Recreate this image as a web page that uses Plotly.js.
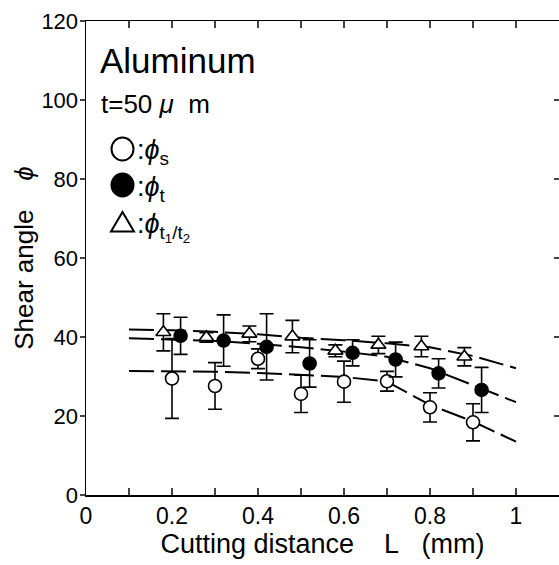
<!DOCTYPE html>
<html><head><meta charset="utf-8">
<script src="https://cdn.plot.ly/plotly-3.0.1.min.js"></script>
<style>html,body{margin:0;padding:0;background:#fff}</style>
</head><body>
<div id="chart" style="width:559px;height:565px"></div>
<script>
// phi_s (open circles)
const sX   = [0.20, 0.30, 0.40, 0.50, 0.60, 0.70, 0.80, 0.90];
const sY   = [29.5, 27.6, 34.5, 25.6, 28.7, 28.8, 22.2, 18.4];
const sErr = [10.1, 5.9, 2.5, 4.7, 5.2, 2.5, 3.7, 4.7];
// phi_t (filled circles)
const tX   = [0.22, 0.32, 0.42, 0.52, 0.62, 0.72, 0.82, 0.92];
const tY   = [40.3, 39.1, 37.5, 33.3, 36.0, 34.3, 30.8, 26.6];
const tErr = [4.7, 6.5, 8.4, 6.0, 3.3, 4.4, 3.7, 5.7];
// phi_t1/t2 (triangles)
const rX   = [0.18, 0.28, 0.38, 0.48, 0.58, 0.68, 0.78, 0.88];
const rY   = [41.2, 39.9, 40.8, 40.1, 36.5, 38.0, 37.6, 35.0];
const rErr = [4.7, 1.2, 2.0, 4.1, 1.5, 2.2, 2.6, 2.3];
// dashed trend curves
const fitX  = [0.1, 0.2, 0.3, 0.4, 0.5, 0.6, 0.7, 0.8, 0.9, 1.0];
const fitS  = [31.4, 31.3, 31.2, 30.9, 30.4, 29.9, 28.7, 22.8, 18.6, 13.5];
const fitT  = [39.7, 39.4, 39.0, 38.3, 37.4, 36.3, 35.0, 32.1, 27.8, 23.5];
const fitR  = [41.9, 41.7, 41.3, 40.7, 39.8, 39.2, 38.4, 37.4, 35.2, 32.1];

const FONT = 'Liberation Sans, Arial, sans-serif';
const PHI = '\u03D5';
const NB = '\u00a0';
const dash = '25px,7px';
function fit(y){ return {x: fitX, y: y, mode: 'lines', line: {color: 'black', width: 2, dash: dash}, hoverinfo: 'skip', showlegend: false}; }
function pts(x, y, e, sym, fill){
  return {x: x, y: y, mode: 'markers', showlegend: false,
    error_y: {type: 'data', array: e, visible: true, color: 'black', thickness: 1.6, width: 7},
    marker: {symbol: sym, size: 13, color: fill, line: {color: 'black', width: 1.6}}};
}
const data = [
  fit(fitS), fit(fitT), fit(fitR),
  pts(rX, rY, rErr, 'triangle-up', 'white'),
  pts(sX, sY, sErr, 'circle', 'white'),
  pts(tX, tY, tErr, 'circle', 'black'),
  {x: [0], y: [0], xaxis: 'x2', yaxis: 'y2', mode: 'markers', marker: {opacity: 0}, showlegend: false, hoverinfo: 'skip'}
];

const W = 473, H = 474, L = 86, T = 21;
function px(x){ return (x - L) / W; }
function py(y){ return (T + H - y) / H; }

const layout = {
  width: 559, height: 565,
  margin: {l: L, r: 0, t: T, b: 70},
  paper_bgcolor: 'white', plot_bgcolor: 'white',
  font: {family: FONT, color: 'black', size: 23},
  showlegend: false,
  xaxis: {range: [0, 1.1], dtick: 0.2, tick0: 0, ticks: 'inside', ticklen: 7, tickwidth: 1.3,
    minor: {dtick: 0.1, ticks: 'inside', ticklen: 7, tickwidth: 1.3},
    showline: true, linewidth: 1.5, linecolor: 'black', showgrid: false, zeroline: false,
    tickfont: {size: 23}, fixedrange: true,
    title: {text: 'Cutting distance' + NB.repeat(4) + 'L' + NB.repeat(3) + '(mm)', font: {size: 27}, standoff: 1}},
  yaxis: {range: [0, 120], dtick: 20, ticks: 'outside', ticklen: 5, tickwidth: 1.3,
    showline: true, linewidth: 1.5, linecolor: 'black', showgrid: false, zeroline: false,
    tickfont: {size: 22}, ticklabelstandoff: -3, fixedrange: true,
    title: {text: 'Shear angle' + NB.repeat(4) + '<i>' + PHI + '</i>', font: {size: 26}, standoff: 0}},
  xaxis2: {overlaying: 'x', side: 'top', range: [0, 1.1], dtick: 0.1, ticks: 'inside', ticklen: 7, tickwidth: 1.3,
    showticklabels: false, showline: true, linewidth: 1.5, linecolor: 'black', showgrid: false, zeroline: false},
  yaxis2: {overlaying: 'y', side: 'right', range: [0, 120], dtick: 20, ticks: 'inside', ticklen: 5, tickwidth: 1.3,
    showticklabels: false, showline: false, showgrid: false, zeroline: false},
  annotations: [
    {xref: 'paper', yref: 'paper', x: px(98), y: py(61), xanchor: 'left', yanchor: 'middle', showarrow: false,
     text: 'Aluminum', font: {size: 35}},
    {xref: 'paper', yref: 'paper', x: px(99), y: py(104), xanchor: 'left', yanchor: 'middle', showarrow: false,
     text: 't=50' + NB + '<i>\u03BC</i>' + NB + NB + 'm', font: {size: 26}},
    {xref: 'paper', yref: 'paper', x: px(135), y: py(152), xanchor: 'left', yanchor: 'middle', showarrow: false,
     text: ':<i>' + PHI + '</i><sub>s</sub>', font: {size: 27}},
    {xref: 'paper', yref: 'paper', x: px(135), y: py(189), xanchor: 'left', yanchor: 'middle', showarrow: false,
     text: ':<i>' + PHI + '</i><sub>t</sub>', font: {size: 27}},
    {xref: 'paper', yref: 'paper', x: px(135), y: py(227), xanchor: 'left', yanchor: 'middle', showarrow: false,
     text: ':<i>' + PHI + '</i><sub>t<sub>1</sub>/t<sub>2</sub></sub>', font: {size: 27}}
  ],
  shapes: [
    {type: 'circle', xref: 'paper', yref: 'paper', xsizemode: 'pixel', ysizemode: 'pixel',
     xanchor: px(122.5), yanchor: py(149), x0: -11, x1: 11, y0: -11.5, y1: 11.5,
     line: {color: 'black', width: 2}, fillcolor: 'white'},
    {type: 'circle', xref: 'paper', yref: 'paper', xsizemode: 'pixel', ysizemode: 'pixel',
     xanchor: px(122.5), yanchor: py(185), x0: -11, x1: 11, y0: -11.5, y1: 11.5,
     line: {color: 'black', width: 2}, fillcolor: 'black'},
    {type: 'path', xref: 'paper', yref: 'paper', xsizemode: 'pixel', ysizemode: 'pixel',
     xanchor: px(122.5), yanchor: py(222), path: 'M-11.5,-9.5 L11.5,-9.5 L0,10 Z',
     line: {color: 'black', width: 2}, fillcolor: 'white'}
  ]
};
Plotly.newPlot('chart', data, layout, {staticPlot: true, displayModeBar: false});
</script>
</body></html>
